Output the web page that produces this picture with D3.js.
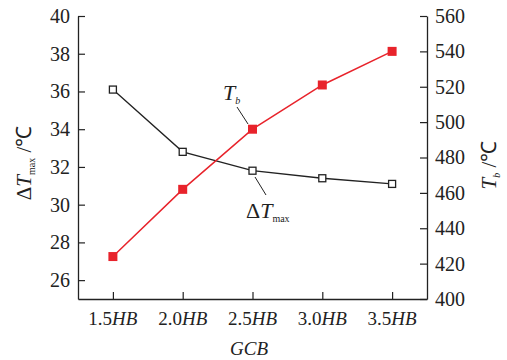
<!DOCTYPE html>
<html>
<head>
<meta charset="utf-8">
<script src="https://cdn.jsdelivr.net/npm/d3@7"></script>
<style>
    body { margin: 0; background: #fff; }
</style>
</head>
<body>
<svg id="chart"></svg>
<script>
const categories = [1.5, 2.0, 2.5, 3.0, 3.5];
const dTmax = [36.1, 32.8, 31.8, 31.4, 31.1];
const tb = [424, 462, 496, 521, 540];
const leftTicks = [26, 28, 30, 32, 34, 36, 38, 40];
const rightTicks = [400, 420, 440, 460, 480, 500, 520, 540, 560];

const WIDTH = 507, HEIGHT = 360;
const LEFT = 78, RIGHT = 427, TOP = 16, BOTTOM = 299;
const RED = "#e8232b";
const INK = "#222";
const FONT = "'Liberation Serif', serif";

const svg = d3.select("#chart")
    .attr("width", WIDTH)
    .attr("height", HEIGHT);

const x = d3.scaleLinear().domain([1.25, 3.75]).range([LEFT, RIGHT]);
const yL = d3.scaleLinear().domain([25, 40]).range([BOTTOM, TOP]);
const yR = d3.scaleLinear().domain([400, 560]).range([BOTTOM, TOP]);

// axes, ticks pointing inward
const xAxis = svg.append("g")
    .attr("transform", `translate(0,${BOTTOM})`)
    .call(d3.axisBottom(x).tickValues(categories).tickSizeInner(-7).tickSizeOuter(0).tickFormat(() => ""));

const leftAxis = svg.append("g")
    .attr("transform", `translate(${LEFT},0)`)
    .call(d3.axisLeft(yL).tickValues(leftTicks).tickSizeInner(-7).tickSizeOuter(0).tickFormat(d3.format("d")));

const rightAxis = svg.append("g")
    .attr("transform", `translate(${RIGHT},0)`)
    .call(d3.axisRight(yR).tickValues(rightTicks).tickSizeInner(-7).tickSizeOuter(0).tickFormat(d3.format("d")));

svg.selectAll(".domain").attr("stroke", INK).attr("stroke-width", 1.3);
svg.selectAll(".tick line").attr("stroke", INK).attr("stroke-width", 1.2);
xAxis.selectAll(".tick text").remove();
leftAxis.selectAll(".tick text").attr("x", -8);
rightAxis.selectAll(".tick text").attr("x", 8);
svg.selectAll(".tick text")
    .style("font-family", FONT)
    .style("font-size", "20px")
    .style("fill", INK);

const xt = svg.append("g");
categories.forEach(c => {
    const t = xt.append("text")
        .attr("x", x(c))
        .attr("y", 325)
        .attr("text-anchor", "middle")
        .style("font-size", "19px");
    t.append("tspan").text(c.toFixed(1));
    t.append("tspan").style("font-style", "italic").text("HB");
});

// axis titles
svg.append("text")
    .attr("x", 249).attr("y", 355)
    .attr("text-anchor", "middle")
    .style("font-size", "19px")
    .style("font-style", "italic")
    .text("GCB");

const lt = svg.append("text")
    .attr("transform", `translate(31,163) rotate(-90)`)
    .attr("text-anchor", "middle")
    .style("font-size", "21px");
lt.append("tspan").text("Δ");
lt.append("tspan").style("font-style", "italic").text("T");
lt.append("tspan").style("font-size", "10px").attr("dy", 4).text("max");
lt.append("tspan").attr("dy", -4).text(" /℃");

const rt = svg.append("text")
    .attr("transform", `translate(496,165) rotate(-90)`)
    .attr("text-anchor", "middle")
    .style("font-size", "21px");
rt.append("tspan").style("font-style", "italic").text("T");
rt.append("tspan").style("font-size", "10px").style("font-style", "italic").attr("dy", 4).text("b");
rt.append("tspan").attr("dy", -4).text(" /℃");

// series
const lineL = d3.line().x((d, i) => x(categories[i])).y(d => yL(d));
const lineR = d3.line().x((d, i) => x(categories[i])).y(d => yR(d));

svg.append("path")
    .datum(dTmax)
    .attr("d", lineL)
    .attr("fill", "none")
    .attr("stroke", INK)
    .attr("stroke-width", 1.3);

svg.append("path")
    .datum(tb)
    .attr("d", lineR)
    .attr("fill", "none")
    .attr("stroke", RED)
    .attr("stroke-width", 1.5);

svg.selectAll("rect.dt")
    .data(dTmax)
    .enter()
    .append("rect")
    .attr("class", "dt")
    .attr("x", (d, i) => x(categories[i]) - 3.5)
    .attr("y", d => yL(d) - 3.5)
    .attr("width", 7)
    .attr("height", 7)
    .attr("fill", "#fff")
    .attr("stroke", INK)
    .attr("stroke-width", 1.3);

svg.selectAll("rect.tb")
    .data(tb)
    .enter()
    .append("rect")
    .attr("class", "tb")
    .attr("x", (d, i) => x(categories[i]) - 4.5)
    .attr("y", d => yR(d) - 4.5)
    .attr("width", 9)
    .attr("height", 9)
    .attr("fill", RED);

// annotations
svg.append("line")
    .attr("x1", 237).attr("y1", 107).attr("x2", 248).attr("y2", 124)
    .attr("stroke", INK).attr("stroke-width", 1);
const a1 = svg.append("text").attr("x", 223).attr("y", 100).style("font-size", "22px");
a1.append("tspan").style("font-style", "italic").text("T");
a1.append("tspan").style("font-style", "italic").style("font-size", "10px").attr("dy", 4).text("b");

svg.append("line")
    .attr("x1", 255).attr("y1", 177).attr("x2", 266).attr("y2", 195)
    .attr("stroke", INK).attr("stroke-width", 1);
const a2 = svg.append("text").attr("x", 246).attr("y", 218).style("font-size", "22px");
a2.append("tspan").text("Δ");
a2.append("tspan").style("font-style", "italic").text("T");
a2.append("tspan").style("font-size", "10px").attr("dy", 4).text("max");

svg.selectAll("text").filter(function () { return !this.closest(".tick"); })
    .style("font-family", FONT)
    .style("fill", INK);
</script>
</body>
</html>
